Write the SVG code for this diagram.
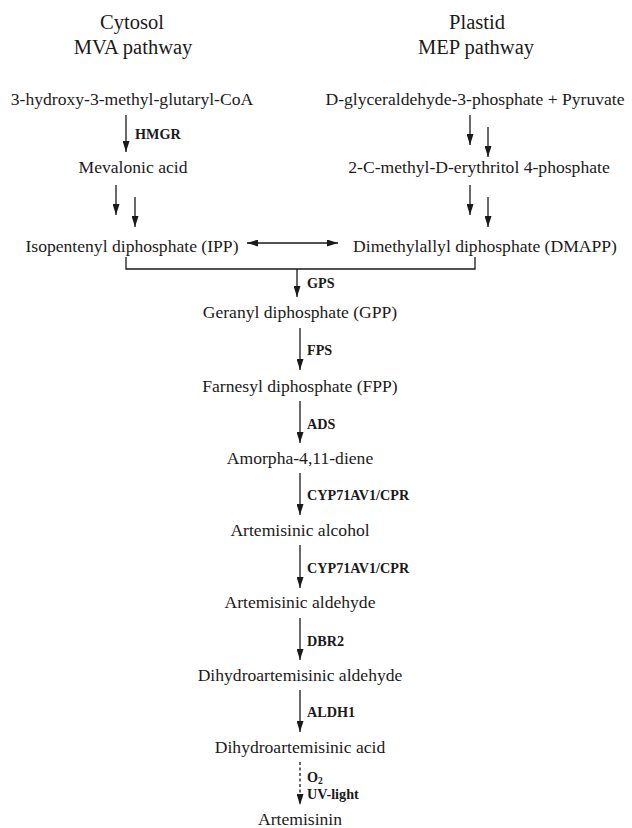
<svg xmlns="http://www.w3.org/2000/svg" width="632" height="828" viewBox="0 0 632 828">
<style>
text{font-family:"Liberation Serif","Times New Roman",serif;fill:#1a1a1a}
.t{font-size:20.5px;text-anchor:middle}
.n{font-size:17.6px}
.c{text-anchor:middle}
.e{font-size:14.2px;font-weight:bold}
.ln{stroke:#1a1a1a;stroke-width:1.3;fill:none}
</style>
<defs>
<marker id="ah" viewBox="0 0 11 7" refX="11" refY="3.5" markerWidth="11" markerHeight="7" markerUnits="userSpaceOnUse" orient="auto-start-reverse">
<path d="M0,0 L11,3.5 L0,7 Z" fill="#1a1a1a"/>
</marker>
</defs>
<rect width="632" height="828" fill="#fff"/>
<g id="titles">
<text class="t" x="132" y="29">Cytosol</text>
<text class="t" x="133" y="54">MVA pathway</text>
<text class="t" x="477" y="29">Plastid</text>
<text class="t" x="476" y="54">MEP pathway</text>
</g>
<g id="hmgcoa"><text class="n c" x="132" y="105">3-hydroxy-3-methyl-glutaryl-CoA</text></g>
<g id="g3p"><text class="n c" x="475" y="105">D-glyceraldehyde-3-phosphate + Pyruvate</text></g>
<g id="mva"><text class="n c" x="133" y="173">Mevalonic acid</text></g>
<g id="mep"><text class="n c" x="479" y="173">2-C-methyl-D-erythritol 4-phosphate</text></g>
<g id="ipp"><text class="n c" x="132" y="252">Isopentenyl diphosphate (IPP)</text></g>
<g id="dmapp"><text class="n c" x="485" y="252">Dimethylallyl diphosphate (DMAPP)</text></g>
<g id="gpp"><text class="n c" x="300" y="318">Geranyl diphosphate (GPP)</text></g>
<g id="fpp"><text class="n c" x="300" y="392">Farnesyl diphosphate (FPP)</text></g>
<g id="amorpha"><text class="n c" x="300" y="464">Amorpha-4,11-diene</text></g>
<g id="alcohol"><text class="n c" x="300" y="536">Artemisinic alcohol</text></g>
<g id="aldehyde"><text class="n c" x="300" y="608">Artemisinic aldehyde</text></g>
<g id="dhaa"><text class="n c" x="300" y="681">Dihydroartemisinic aldehyde</text></g>
<g id="dhacid"><text class="n c" x="300" y="753">Dihydroartemisinic acid</text></g>
<g id="artemisinin"><text class="n c" x="300" y="825">Artemisinin</text></g>
<g id="connectors">
<line class="ln" x1="126" y1="115" x2="126" y2="152" marker-end="url(#ah)"/>
<line class="ln" x1="470" y1="115" x2="470" y2="145" marker-end="url(#ah)"/>
<line class="ln" x1="488" y1="127" x2="488" y2="157" marker-end="url(#ah)"/>
<line class="ln" x1="116" y1="185" x2="116" y2="215" marker-end="url(#ah)"/>
<line class="ln" x1="135" y1="197" x2="135" y2="227" marker-end="url(#ah)"/>
<line class="ln" x1="470" y1="185" x2="470" y2="215" marker-end="url(#ah)"/>
<line class="ln" x1="488" y1="197" x2="488" y2="227" marker-end="url(#ah)"/>
<line class="ln" x1="247" y1="243" x2="338" y2="243" marker-start="url(#ah)" marker-end="url(#ah)"/>
<path class="ln" d="M126,257 V269 H475 V257"/>
<line class="ln" x1="297" y1="269" x2="297" y2="297" marker-end="url(#ah)"/>
<line class="ln" x1="300" y1="328" x2="300" y2="370" marker-end="url(#ah)"/>
<line class="ln" x1="300" y1="401" x2="300" y2="443" marker-end="url(#ah)"/>
<line class="ln" x1="300" y1="473" x2="300" y2="515" marker-end="url(#ah)"/>
<line class="ln" x1="300" y1="545" x2="300" y2="588" marker-end="url(#ah)"/>
<line class="ln" x1="300" y1="618" x2="300" y2="660" marker-end="url(#ah)"/>
<line class="ln" x1="300" y1="690" x2="300" y2="732" marker-end="url(#ah)"/>
<line class="ln" x1="300" y1="762" x2="300" y2="805" stroke-dasharray="3,2.5" marker-end="url(#ah)"/>
</g>
<g id="labels">
<text class="e" x="135" y="139">HMGR</text>
<text class="e" x="307" y="288">GPS</text>
<text class="e" x="307" y="355">FPS</text>
<text class="e" x="307" y="429">ADS</text>
<text class="e" x="307" y="500">CYP71AV1/CPR</text>
<text class="e" x="307" y="573">CYP71AV1/CPR</text>
<text class="e" x="307" y="646">DBR2</text>
<text class="e" x="307" y="717">ALDH1</text>
<text class="e" x="307" y="782">O<tspan font-size="9.5px" dy="2">2</tspan></text>
<text class="e" x="307" y="799">UV-light</text>
</g>
</svg>
